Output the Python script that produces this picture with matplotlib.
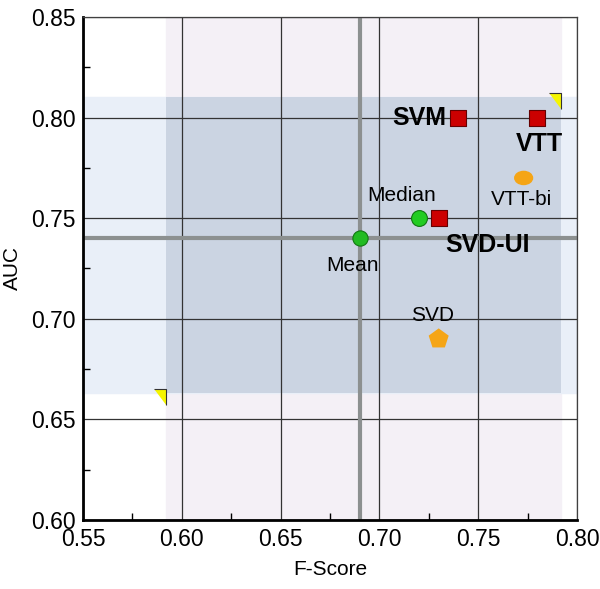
import matplotlib
matplotlib.use("Agg")
import matplotlib.pyplot as plt
from matplotlib.patches import Rectangle, Ellipse
from matplotlib.ticker import MultipleLocator

plt.rcParams['font.family'] = ['Liberation Sans', 'DejaVu Sans']

# methods: name, F-score, AUC
names = ["SVM", "VTT", "SVD-UI", "VTT-bi", "SVD", "Median", "Mean"]
fscore = [0.74, 0.78, 0.73, 0.773, 0.73, 0.72, 0.69]
auc = [0.80, 0.80, 0.75, 0.77, 0.69, 0.75, 0.74]

# range of the results (shaded bands) and the mean
f_range = [0.592, 0.792]
auc_range = [0.663, 0.81]
mean_f = 0.69
mean_auc = 0.74

fig = plt.figure(figsize=(6, 5.89), dpi=100)
ax = fig.add_axes([83/600, 69/589, 494/600, 503/589])
ax.set_xlim(0.55, 0.80)
ax.set_ylim(0.60, 0.85)

# shaded bands
ax.axvspan(f_range[0], f_range[1], color="#f4f0f6", zorder=0)
ax.axhspan(auc_range[0], auc_range[1], color="#e9eff8", zorder=0)
ax.add_patch(Rectangle((f_range[0], auc_range[0]), f_range[1]-f_range[0],
                       auc_range[1]-auc_range[0], color="#cbd4e2", zorder=0.5, lw=0))

ax.grid(True, color="#333333", lw=0.9, zorder=1)
ax.set_axisbelow(True)

# mean lines
ax.axvline(mean_f, color="#8c9090", lw=3, zorder=2)
ax.axhline(mean_auc, color="#8c9090", lw=3, zorder=2)

# corner triangles
tri = [(-1.0, 0.3), (0.0, 0.3), (0.0, -1.0)]
for fx, ay in zip(f_range, auc_range):
    ax.scatter([fx], [ay], marker=tri, s=320, color="#f5f500", edgecolor="#333333",
               lw=0.8, zorder=4)

style = {
    "SVM": dict(marker="s", color="#cc0000", s=120),
    "VTT": dict(marker="s", color="#cc0000", s=120),
    "SVD-UI": dict(marker="s", color="#cc0000", s=120),
    "SVD": dict(marker="p", color="#f5a516", s=230),
    "Median": dict(marker="o", color="#22cc22", s=130),
    "Mean": dict(marker="o", color="#22bb22", s=120),
}
for n, x, y in zip(names, fscore, auc):
    if n == "VTT-bi":
        ax.add_patch(Ellipse((x, y), 0.009, 0.0065, color="#f5a516", zorder=5))
        continue
    st = style[n]
    ec = "#660000" if st["marker"] == "s" else ("#117711" if st["marker"] == "o" else "none")
    ax.scatter([x], [y], marker=st["marker"], s=st["s"], color=st["color"],
               edgecolor=ec, lw=0.8, zorder=5)

# labels
ax.text(0.734, 0.80, "SVM", fontsize=18, fontweight="bold", ha="right", va="center", zorder=6)
ax.text(0.781, 0.787, "VTT", fontsize=18, fontweight="bold", ha="center", va="center", zorder=6)
ax.text(0.7335, 0.7365, "SVD-UI", fontsize=18, fontweight="bold", ha="left", va="center", zorder=6)
ax.text(0.772, 0.7595, "VTT-bi", fontsize=15, ha="center", va="center", zorder=6)
ax.text(0.727, 0.7015, "SVD", fontsize=15, ha="center", va="center", zorder=6)
ax.text(0.711, 0.7615, "Median", fontsize=15, ha="center", va="center", zorder=6)
ax.text(0.6865, 0.7265, "Mean", fontsize=15, ha="center", va="center", zorder=6)

ax.xaxis.set_major_locator(MultipleLocator(0.05))
ax.yaxis.set_major_locator(MultipleLocator(0.05))
ax.xaxis.set_minor_locator(MultipleLocator(0.025))
ax.yaxis.set_minor_locator(MultipleLocator(0.025))
ax.set_xticklabels([f"{v:.2f}" for v in ax.get_xticks()])
ax.set_yticklabels([f"{v:.2f}" for v in ax.get_yticks()])
ax.tick_params(which="both", direction="in", length=5, width=1, labelsize=16.5, color="black")
ax.tick_params(which="major", length=0)
ax.tick_params(axis="y", pad=5)
ax.tick_params(axis="x", pad=6)

for s in ["left", "bottom"]:
    ax.spines[s].set_linewidth(2)
for s in ["top", "right"]:
    ax.spines[s].set_color("#404040")
    ax.spines[s].set_linewidth(0.9)

ax.set_xlabel("F-Score", fontsize=15, labelpad=6)
ax.set_ylabel("AUC", fontsize=15, labelpad=7)

fig.savefig("out.png", dpi=100)
